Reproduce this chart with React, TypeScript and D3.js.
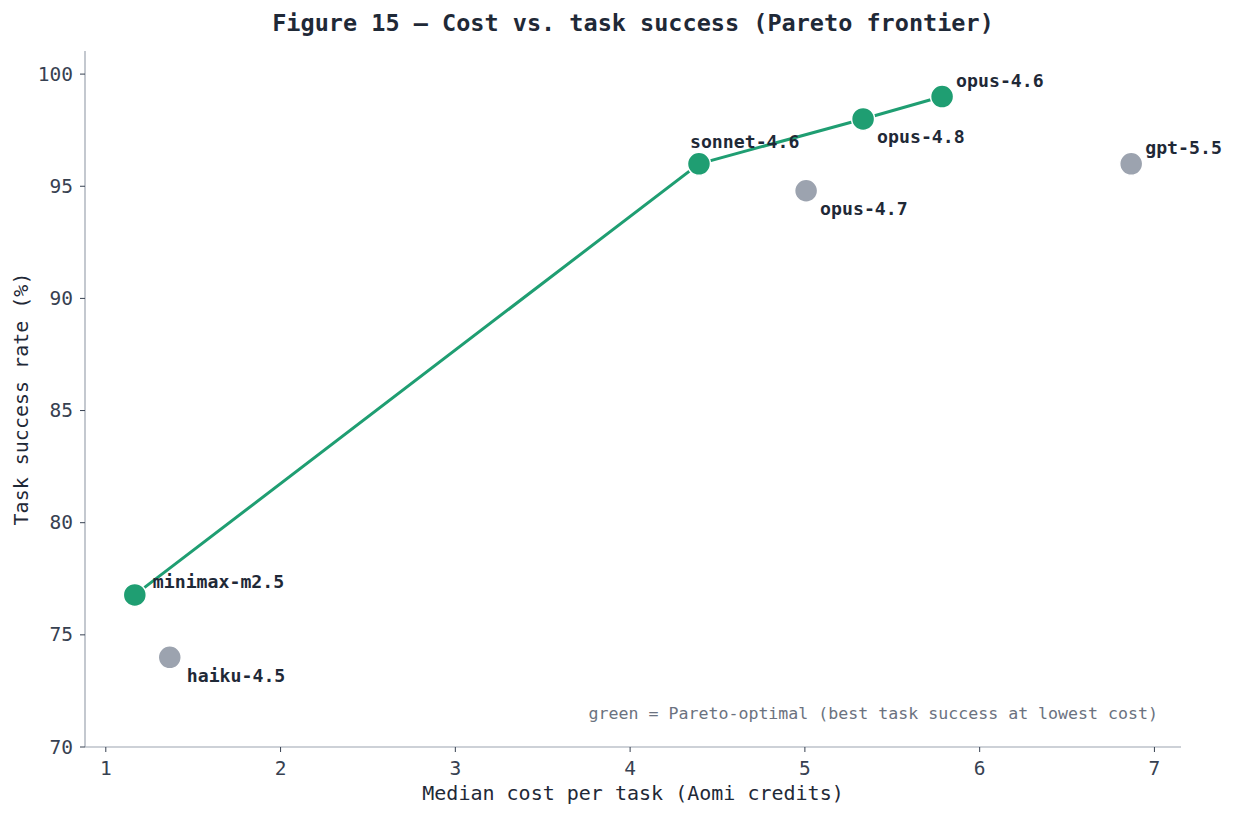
import React from "react";
import * as d3 from "d3";

const models = ["minimax-m2.5", "haiku-4.5", "sonnet-4.6", "opus-4.7", "opus-4.8", "opus-4.6", "gpt-5.5"];
const costs = [1.166, 1.366, 4.394, 5.007, 5.333, 5.785, 6.867];
const success = [76.78, 74.0, 96.0, 94.8, 98.0, 99.0, 96.0];
const pareto = [true, false, true, false, true, true, false];
// label offsets (dx, dy) in pixels
const labelDx = [18, 17, -9, 14, 14, 14, 14];
const labelDy = [-13, 18, -22, 18, 18, -16, -16];
const xTicks = [1, 2, 3, 4, 5, 6, 7];
const yTicks = [70, 75, 80, 85, 90, 95, 100];

const W = 1234;
const H = 815;
const M = { left: 85, right: 1181, top: 51, bottom: 747 };
const FONT = "'DejaVu Sans Mono', monospace";
const GREEN = "#1f9e72";
const GRAY = "#9ca3af";

export default function App() {
  const x = d3.scaleLinear().domain([0.881, 7.152]).range([M.left, M.right]);
  const y = d3.scaleLinear().domain([70, 101.03]).range([M.bottom, M.top]);
  const idx = models.map((_, i) => i);
  const front = idx.filter((i) => pareto[i]).sort((a, b) => costs[a] - costs[b]);
  const line = d3
    .line<number>()
    .x((i) => x(costs[i]))
    .y((i) => y(success[i]));

  return (
    <svg
      width={W}
      height={H}
      style={{ position: "absolute", left: 0, top: 0, background: "#fff", fontFamily: FONT }}
    >
      <text x={633} y={23} textAnchor="middle" dominantBaseline="central" fontSize={23.5} fontWeight="bold" fill="#1f2937">
        Figure 15 — Cost vs. task success (Pareto frontier)
      </text>
      {/* axes */}
      <line x1={M.left} x2={M.left} y1={M.top} y2={M.bottom} stroke={GRAY} strokeWidth={1.2} />
      <line x1={M.left} x2={M.right} y1={M.bottom} y2={M.bottom} stroke={GRAY} strokeWidth={1.2} />
      {xTicks.map((t) => (
        <g key={"x" + t}>
          <line x1={x(t)} x2={x(t)} y1={M.bottom} y2={M.bottom + 5} stroke="#374151" strokeWidth={1} />
          <text x={x(t)} y={768} textAnchor="middle" dominantBaseline="central" fontSize={19.5} fill="#374151">
            {t}
          </text>
        </g>
      ))}
      {yTicks.map((t) => (
        <g key={"y" + t}>
          <line x1={M.left - 5} x2={M.left} y1={y(t)} y2={y(t)} stroke="#374151" strokeWidth={1} />
          <text x={73} y={y(t)} textAnchor="end" dominantBaseline="central" fontSize={19.5} fill="#374151">
            {t}
          </text>
        </g>
      ))}
      <text x={633} y={793} textAnchor="middle" dominantBaseline="central" fontSize={20} fill="#1f2937">
        Median cost per task (Aomi credits)
      </text>
      <text
        transform={`translate(21,${(M.top + M.bottom) / 2}) rotate(-90)`}
        textAnchor="middle"
        dominantBaseline="central"
        fontSize={20}
        fill="#1f2937"
      >
        Task success rate (%)
      </text>
      {/* frontier line */}
      <path d={line(front) || ""} fill="none" stroke={GREEN} strokeWidth={3} />
      {/* points */}
      {idx.map((i) => (
        <circle
          key={"p" + i}
          cx={x(costs[i])}
          cy={y(success[i])}
          r={11.5}
          fill={pareto[i] ? GREEN : GRAY}
          stroke="#fff"
          strokeWidth={1.5}
        />
      ))}
      {idx.map((i) => (
        <text
          key={"l" + i}
          x={x(costs[i]) + labelDx[i]}
          y={y(success[i]) + labelDy[i]}
          dominantBaseline="central"
          fontSize={18.2}
          fontWeight="bold"
          fill="#1f2937"
        >
          {models[i]}
        </text>
      ))}
      <text x={1158} y={713} textAnchor="end" dominantBaseline="central" fontSize={16.6} fill="#6b7280">
        green = Pareto-optimal (best task success at lowest cost)
      </text>
    </svg>
  );
}
